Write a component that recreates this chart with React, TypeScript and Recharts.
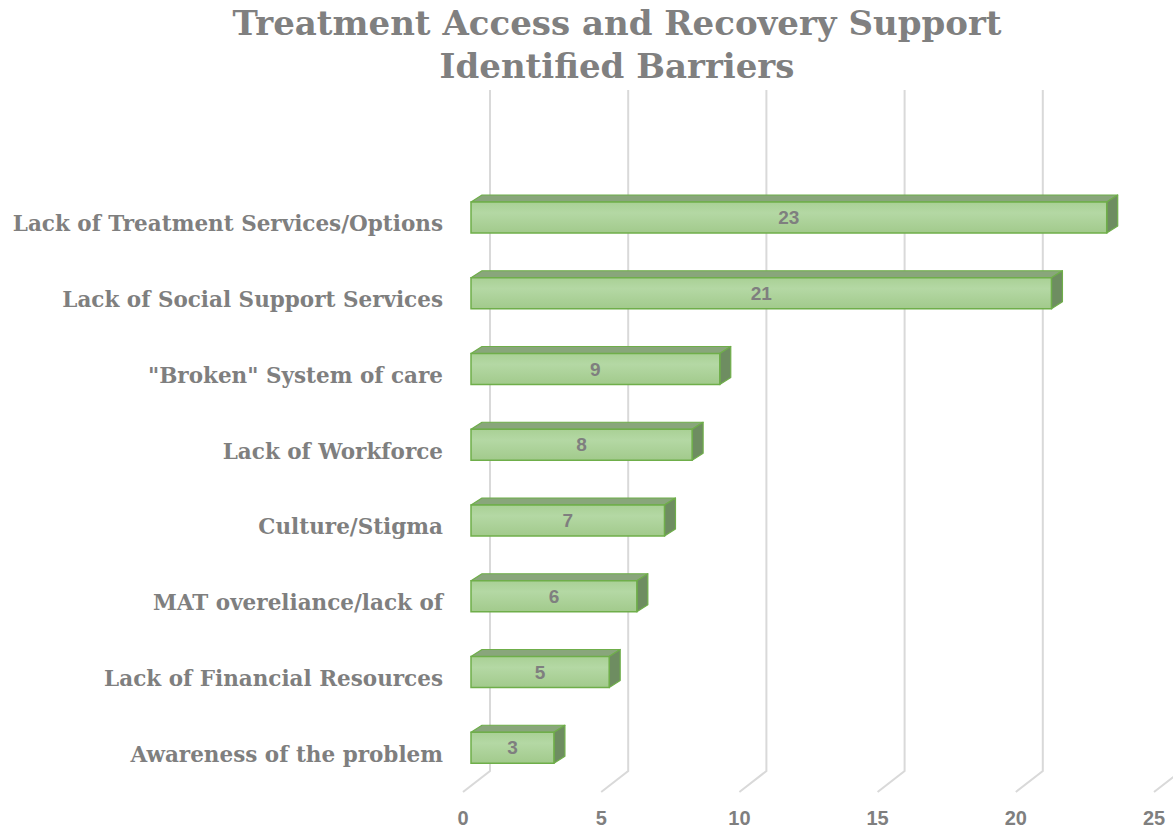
import React from 'react';
import { BarChart, Bar, XAxis, YAxis, CartesianGrid, LabelList } from 'recharts';

const categories = [
  'Lack of Treatment Services/Options',
  'Lack of Social Support Services',
  '"Broken" System of care',
  'Lack of Workforce',
  'Culture/Stigma',
  'MAT overeliance/lack of',
  'Lack of Financial Resources',
  'Awareness of the problem',
];
const counts = [23, 21, 9, 8, 7, 6, 5, 3];
const xTicks = [0, 5, 10, 15, 20, 25];

const data = categories.map((name, i) => ({ name, value: counts[i] }));

const GRAY = '#7f7f7f';
const SERIF = '"DejaVu Serif", "Liberation Serif", serif';
const SANS = '"Liberation Sans", Arial, sans-serif';

// 3D depth of the bars and of the floor
const DX = 11;
const DY = 7;
const WALL_TOP = 90;
const WALL_BOTTOM = 771;

const Box3D = (props: any) => {
  const { x, y, width, height } = props;
  if (width == null || width <= 0) return null;
  const top = `${x},${y} ${x + DX},${y - DY} ${x + width + DX},${y - DY} ${x + width},${y}`;
  const side = `${x + width},${y} ${x + width + DX},${y - DY} ${x + width + DX},${y + height - DY} ${x + width},${y + height}`;
  return (
    <g>
      <polygon points={top} fill="#89a67b" stroke="#6fae4a" strokeWidth={1.2} strokeLinejoin="round" />
      <polygon points={side} fill="#6e8d61" stroke="#6fae4a" strokeWidth={1.2} strokeLinejoin="round" />
      <rect x={x} y={y} width={width} height={height} fill="url(#barFront)" stroke="#6fae4a" strokeWidth={1.5} />
    </g>
  );
};

const gridLine = (props: any) => {
  const x = props.x1;
  return (
    <path
      key={`grid-${props.index}-${x}`}
      d={`M${x + 19},${WALL_TOP} L${x + 19},${WALL_BOTTOM} L${x - 8},${WALL_BOTTOM + 21}`}
      fill="none"
      stroke="#d9d9d9"
      strokeWidth={2}
    />
  );
};

const XTick = (props: any) => {
  const { x, payload } = props;
  return (
    <text x={x - 8} y={825} textAnchor="middle" fill={GRAY} fontSize={20} fontWeight="bold" fontFamily={SANS}>
      {payload.value}
    </text>
  );
};

const YTick = (props: any) => {
  const { y, payload } = props;
  return (
    <text x={443} y={y + 6} textAnchor="end" dominantBaseline="central" fill={GRAY} fontSize={21.5}
      fontWeight="bold" fontFamily={SERIF}>
      {payload.value}
    </text>
  );
};

export default function App() {
  return (
    <div style={{ position: 'absolute', left: 0, top: 0, width: 1173, height: 830, background: '#fff' }}>
      <div
        style={{
          position: 'absolute',
          left: 0,
          top: 2,
          width: 1234,
          textAlign: 'center',
          color: '#808080',
          fontFamily: SERIF,
          fontWeight: 'bold',
          fontSize: 34,
          lineHeight: '43px',
        }}
      >
        Treatment Access and Recovery Support
        <br />
        Identified Barriers
      </div>
      <BarChart
        width={1173}
        height={830}
        data={data}
        layout="vertical"
        margin={{ top: 180, right: 11, bottom: 0, left: 0 }}
        barCategoryGap={0}
      >
        <defs>
          <linearGradient id="barFront" x1="0" y1="0" x2="0" y2="1">
            <stop offset="0%" stopColor="#a9d095" />
            <stop offset="35%" stopColor="#b4d8a4" />
            <stop offset="100%" stopColor="#a2ca8c" />
          </linearGradient>
        </defs>
        <CartesianGrid horizontal={false} vertical={gridLine} />
        <XAxis
          type="number"
          domain={[0, 25]}
          ticks={xTicks}
          axisLine={false}
          tickLine={false}
          tick={<XTick />}
          height={44}
        />
        <YAxis
          type="category"
          dataKey="name"
          width={471}
          axisLine={false}
          tickLine={false}
          tick={<YTick />}
        />
        <Bar dataKey="value" barSize={31} shape={<Box3D />} isAnimationActive={false}>
          <LabelList
            dataKey="value"
            position="center"
            fill={GRAY}
            fontSize={19}
            fontWeight="bold"
            fontFamily={SANS}
          />
        </Bar>
      </BarChart>
    </div>
  );
}
